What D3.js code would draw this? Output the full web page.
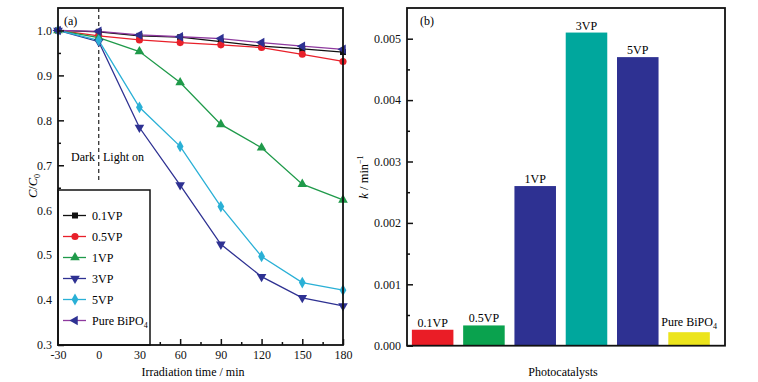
<!DOCTYPE html>
<html>
<head>
<meta charset="utf-8">
<script src="https://cdn.jsdelivr.net/npm/d3@7"></script>
<style>
  body { margin: 0; background: #fff; }
  svg { display: block; font-family: "Liberation Serif", "DejaVu Serif", serif; }
</style>
</head>
<body>
<div id="chart"></div>
<script>
// panel (a) data
const times = [-30, 0, 30, 60, 90, 120, 150, 180];
const seriesNames = ["0.1VP", "0.5VP", "1VP", "3VP", "5VP", "Pure BiPO4"];
const vp01 = [1.0, 0.997, 0.988, 0.985, 0.975, 0.965, 0.959, 0.952];
const vp05 = [1.0, 0.988, 0.979, 0.973, 0.968, 0.962, 0.947, 0.931];
const vp1 = [1.0, 0.984, 0.953, 0.884, 0.791, 0.739, 0.658, 0.623];
const vp3 = [1.0, 0.975, 0.784, 0.656, 0.524, 0.452, 0.405, 0.387];
const vp5 = [1.0, 0.978, 0.829, 0.742, 0.608, 0.497, 0.439, 0.422];
const pure = [1.0, 0.998, 0.990, 0.986, 0.982, 0.973, 0.965, 0.958];
const yTicksA = [0.3, 0.4, 0.5, 0.6, 0.7, 0.8, 0.9, 1.0];
const xTicksA = [-30, 0, 30, 60, 90, 120, 150, 180];

// panel (b) data
const catalysts = ["0.1VP", "0.5VP", "1VP", "3VP", "5VP", "Pure BiPO4"];
const kValues = [0.00026, 0.00033, 0.0026, 0.0051, 0.0047, 0.00022];
const yTicksB = [0, 0.001, 0.002, 0.003, 0.004, 0.005];

const w = 758, h = 382;
const svg = d3.select("#chart").append("svg").attr("width", w).attr("height", h);

const lineColors = ["#111111", "#e8202a", "#1f9a4a", "#2e3192", "#2ab0d6", "#8e3a9e"];
const markColors = ["#111111", "#e8202a", "#1f9a4a", "#2e3192", "#2ab0d6", "#2e3192"];
const shapes = [
  { t: d3.symbolSquare, r: 0, s: 36 },
  { t: d3.symbolCircle, r: 0, s: 40 },
  { t: d3.symbolTriangle, r: 0, s: 40 },
  { t: d3.symbolTriangle, r: 180, s: 40 },
  { t: d3.symbolDiamond, r: 0, s: 40 },
  { t: d3.symbolTriangle, r: -90, s: 40 }
];
const allSeries = [vp01, vp05, vp1, vp3, vp5, pure];
const fs = 12;

// ---------- panel (a) ----------
const A = { l: 58, r: 343, t: 8, b: 345 };
const xA = d3.scaleLinear().domain([-30, 180]).range([A.l, A.r]);
const yA = d3.scaleLinear().domain([0.3, 1.05]).range([A.b, A.t]);

const gA = svg.append("g");

// dashed dark/light separator
gA.append("line")
  .attr("x1", xA(0)).attr("x2", xA(0))
  .attr("y1", A.t).attr("y2", 183)
  .attr("stroke", "#333").attr("stroke-width", 1.3)
  .attr("stroke-dasharray", "4,3");
gA.append("text").attr("x", 95).attr("y", 161).attr("text-anchor", "end").attr("font-size", fs).text("Dark");
gA.append("text").attr("x", 103).attr("y", 161).attr("font-size", fs).text("Light on");

const line = d3.line().x((d, i) => xA(times[i])).y(d => yA(d));

allSeries.forEach((vals, k) => {
  gA.append("path")
    .datum(vals)
    .attr("d", line)
    .attr("fill", "none")
    .attr("stroke", lineColors[k])
    .attr("stroke-width", 1.3);
});
allSeries.forEach((vals, k) => {
  const sym = d3.symbol().type(shapes[k].t).size(shapes[k].s);
  gA.selectAll(null)
    .data(vals)
    .enter()
    .append("path")
    .attr("d", sym)
    .attr("transform", (d, i) => `translate(${xA(times[i])},${yA(d)}) rotate(${shapes[k].r})`)
    .attr("fill", markColors[k]);
});

// axes (ticks inward)
gA.append("g").attr("transform", `translate(0,${A.b})`)
  .call(d3.axisBottom(xA).tickValues(xTicksA).tickSize(-6).tickPadding(5).tickFormat(d => String(d)));
gA.append("g").attr("transform", `translate(0,${A.b})`)
  .call(d3.axisBottom(xA).tickValues(d3.range(-15, 180, 30)).tickSize(-3).tickFormat(""));
gA.append("g").attr("transform", `translate(${A.l},0)`)
  .call(d3.axisLeft(yA).tickValues(yTicksA).tickSize(-6).tickPadding(6).tickFormat(d3.format(".1f")));
gA.append("g").attr("transform", `translate(${A.l},0)`)
  .call(d3.axisLeft(yA).tickValues(d3.range(0.35, 1.05, 0.1)).tickSize(-3).tickFormat(""));

// legend box
const leg = gA.append("g");
leg.append("rect").attr("x", A.l).attr("y", 190).attr("width", 92).attr("height", A.b - 190)
  .attr("fill", "#fff").attr("stroke", "#111").attr("stroke-width", 1.5);
seriesNames.forEach((name, k) => {
  const yy = 215.5 + k * 21;
  leg.append("line").attr("x1", 63).attr("x2", 86).attr("y1", yy).attr("y2", yy)
    .attr("stroke", lineColors[k]).attr("stroke-width", 1.3);
  leg.append("path").attr("d", d3.symbol().type(shapes[k].t).size(shapes[k].s))
    .attr("transform", `translate(75,${yy}) rotate(${shapes[k].r})`)
    .attr("fill", markColors[k]);
  const t = leg.append("text").attr("x", 92).attr("y", yy + 4.5).attr("font-size", fs);
  if (name === "Pure BiPO4") {
    t.append("tspan").text("Pure BiPO");
    t.append("tspan").attr("font-size", 8).attr("dy", 3).text("4");
  } else t.text(name);
});

// frame
gA.append("rect").attr("x", A.l).attr("y", A.t).attr("width", A.r - A.l).attr("height", A.b - A.t)
  .attr("fill", "none").attr("stroke", "#111").attr("stroke-width", 1.8);
gA.append("text").attr("x", 64).attr("y", 25).attr("font-size", fs).text("(a)");

gA.append("text").attr("x", 193).attr("y", 376).attr("text-anchor", "middle")
  .attr("font-size", fs).text("Irradiation time / min");
const yl = gA.append("text").attr("transform", "translate(37,186) rotate(-90)")
  .attr("text-anchor", "middle").attr("font-size", 12.5);
yl.append("tspan").attr("font-style", "italic").text("C");
yl.append("tspan").text("/");
yl.append("tspan").attr("font-style", "italic").text("C");
yl.append("tspan").attr("font-size", 8).attr("dy", 3).text("0");

// ---------- panel (b) ----------
const B = { l: 407, r: 725, t: 8, b: 345.7 };
const xB = d3.scaleBand().domain(catalysts).range([B.l, B.r - 10.3]).paddingInner(0.19).paddingOuter(0.095);
const yB = d3.scaleLinear().domain([0, 0.0055]).range([B.b, B.t]);
const barColors = ["#ea1d26", "#0aa24e", "#2e3192", "#00a79d", "#2e3192", "#ece41c"];

const gB = svg.append("g");
gB.selectAll("rect.bar")
  .data(kValues)
  .enter()
  .append("rect")
  .attr("class", "bar")
  .attr("x", (d, i) => xB(catalysts[i]))
  .attr("y", d => yB(d))
  .attr("width", xB.bandwidth())
  .attr("height", d => yB(0) - yB(d))
  .attr("fill", (d, i) => barColors[i]);

kValues.forEach((d, i) => {
  const t = gB.append("text")
    .attr("x", xB(catalysts[i]) + xB.bandwidth() / 2)
    .attr("y", yB(d) - 3)
    .attr("text-anchor", "middle")
    .attr("font-size", fs);
  if (catalysts[i] === "Pure BiPO4") {
    t.attr("y", yB(d) - 6);
    t.append("tspan").text("Pure BiPO");
    t.append("tspan").attr("font-size", 8).attr("dy", 3).text("4");
  } else t.text(catalysts[i]);
});

gB.append("g").attr("transform", `translate(${B.l},0)`)
  .call(d3.axisLeft(yB).tickValues(yTicksB).tickSize(-6).tickPadding(6).tickFormat(d3.format(".3f")));
gB.append("g").attr("transform", `translate(${B.l},0)`)
  .call(d3.axisLeft(yB).tickValues(d3.range(0.0005, 0.0055, 0.001)).tickSize(-3).tickFormat(""));

gB.append("rect").attr("x", B.l).attr("y", B.t).attr("width", B.r - B.l).attr("height", B.b - B.t)
  .attr("fill", "none").attr("stroke", "#111").attr("stroke-width", 1.8);
gB.append("text").attr("x", 420).attr("y", 25).attr("font-size", fs).text("(b)");
gB.append("text").attr("x", 563).attr("y", 376).attr("text-anchor", "middle")
  .attr("font-size", fs).text("Photocatalysts");
const kl = gB.append("text").attr("transform", "translate(368,177) rotate(-90)")
  .attr("text-anchor", "middle").attr("font-size", 12.5);
kl.append("tspan").attr("font-style", "italic").text("k");
kl.append("tspan").text(" / min");
kl.append("tspan").attr("font-size", 8).attr("dy", -5).text("−1");

// axis styling
svg.selectAll(".domain").remove();
svg.selectAll(".tick line").attr("stroke", "#111").attr("stroke-width", 1.5);
svg.selectAll(".tick text").attr("font-size", fs).attr("fill", "#111")
  .attr("font-family", "Liberation Serif, serif");
</script>
</body>
</html>
